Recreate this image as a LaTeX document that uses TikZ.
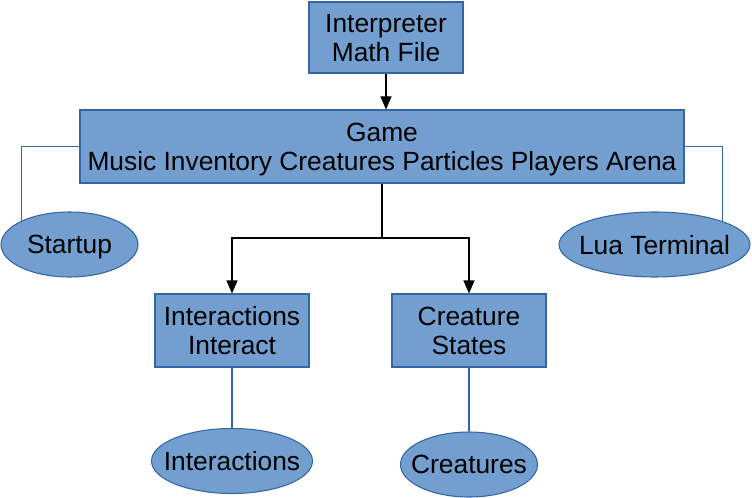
\documentclass[tikz,border=0pt]{standalone}
\usepackage{fontspec}
\setmainfont{Liberation Sans}
\usepackage{xcolor}
\usetikzlibrary{shapes, arrows.meta, positioning}

\definecolor{boxfill}{HTML}{729FCF}
\definecolor{boxline}{HTML}{3465A4}

\begin{document}
\begin{tikzpicture}[font=\fontsize{15}{16.5}\selectfont,
  box/.style={rectangle, draw=boxline, fill=boxfill, line width=0.6pt, align=center, inner sep=0pt, text depth=0pt},
  oval/.style={ellipse, draw=boxline, fill=boxfill, line width=0.6pt, align=center, inner xsep=-1cm, inner ysep=0pt, text depth=0pt, minimum height=1.3cm},
  link/.style={draw=boxline, line width=0.6pt},
  arrow/.style={-{Triangle[length=0.26cm,width=0.22cm]}, line width=0.6pt}]
\useasboundingbox (0,0) rectangle (15.04,-9.96);

\node (interp) [box, minimum width=3.08cm, minimum height=1.42cm] at (7.72,-0.75) {Interpreter\\Math File};
\node (game) [box, minimum width=12.08cm, minimum height=1.46cm, below of=interp, node distance=2.18cm, xshift=-0.08cm] {Game\\Music Inventory Creatures Particles Players Arena};
\node (startup) [oval, minimum width=2.74cm, below of=game, node distance=1.96cm, xshift=-6.25cm] {Startup};
\node (lua) [oval, minimum width=3.82cm, below of=game, node distance=1.96cm, xshift=5.45cm] {Lua Terminal};
\node (interact) [box, minimum width=3.08cm, minimum height=1.46cm, below of=game, node distance=3.68cm, xshift=-3.0cm] {Interactions\\Interact};
\node (states) [box, minimum width=3.08cm, minimum height=1.46cm, below of=game, node distance=3.68cm, xshift=1.74cm] {Creature\\States};
\node (interactions) [oval, minimum width=3.22cm, below of=interact, node distance=2.61cm] {Interactions};
\node (creatures) [oval, minimum width=2.74cm, below of=states, node distance=2.68cm] {Creatures};
\coordinate [below of=game, node distance=1.83cm] (fork);

\draw [arrow] (interp) -- (interp.south |- game.north);
\draw [link] (game.west) -| (startup.154);
\draw [link] (game.east) -| (lua.19);
\draw [arrow] (game) -- (fork) -| (interact);
\draw [arrow] (fork) -| (states);
\draw [link] (interact) -- (interactions);
\draw [link] (states) -- (creatures);
\end{tikzpicture}
\end{document}
